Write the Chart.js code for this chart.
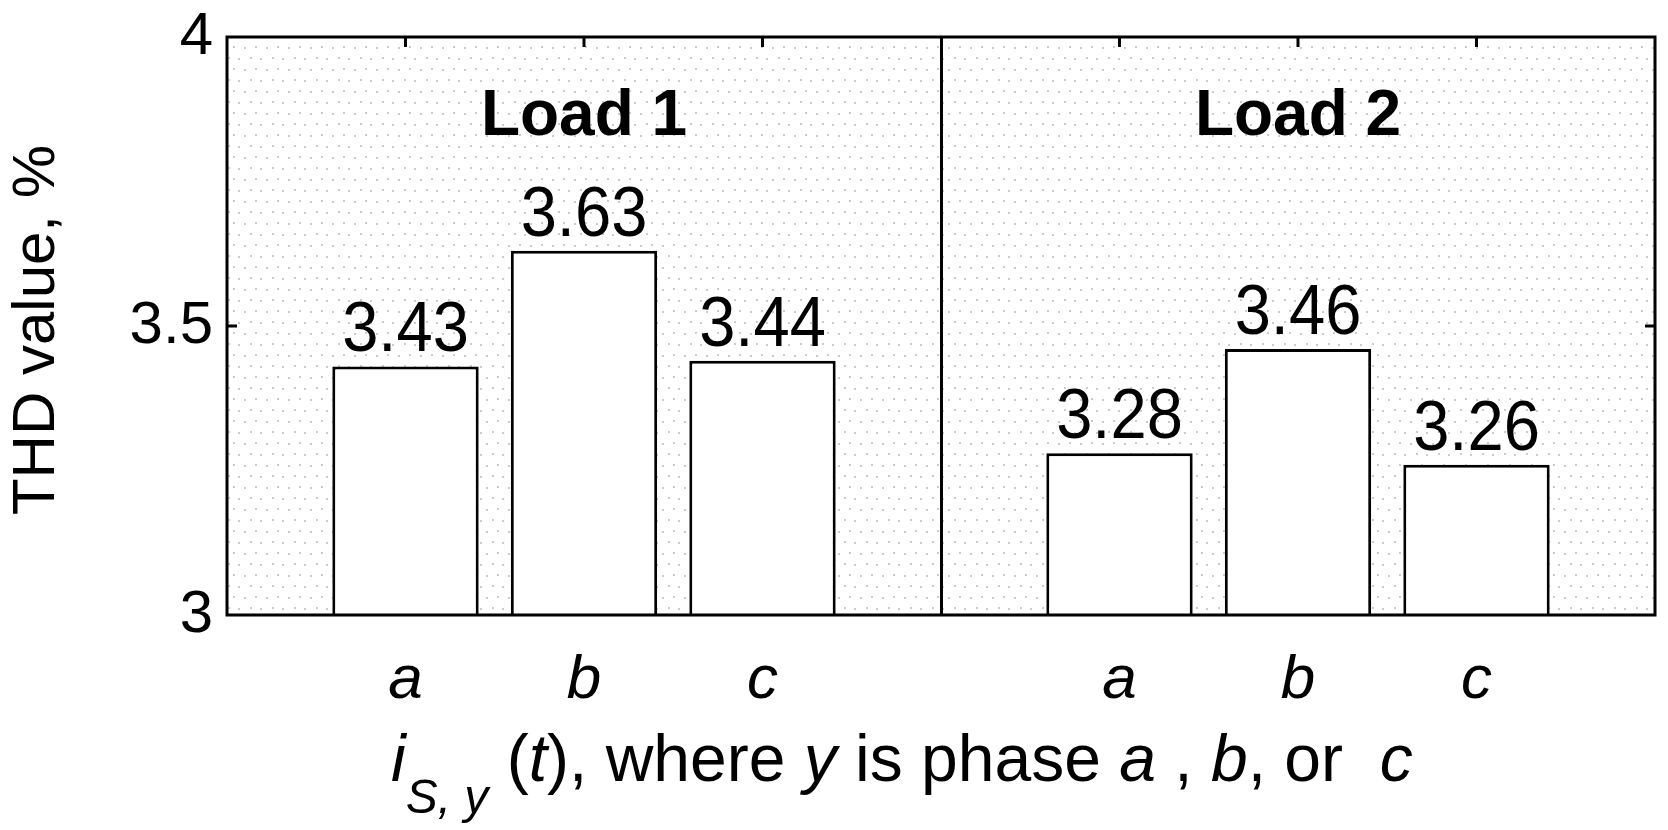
<!DOCTYPE html>
<html>
<head>
<meta charset="utf-8">
<script src="https://cdn.jsdelivr.net/npm/chart.js@4.4.1/dist/chart.umd.min.js"></script>
<style>
  html, body { margin: 0; padding: 0; background: #fff; }
  #wrap { width: 1668px; height: 830px; position: relative; }
</style>
</head>
<body>
<div id="wrap"><canvas id="thd-chart"></canvas></div>
<script>
// datos
const phases = ['a', 'b', 'c'];
const loadNames = ['Load 1', 'Load 2'];
const load1Values = [3.43, 3.63, 3.44];
const load2Values = [3.28, 3.46, 3.26];
const yTicks = [3, 3.5, 4];

const FONT = '"Liberation Sans", Arial, sans-serif';

// eje de categorías: hueco, a b c, separador, a b c, hueco
const labels = [''].concat(phases, [''], phases, ['']);
const values = [null].concat(load1Values, [null], load2Values, [null]);
const dividerIndex = phases.length + 1;
const groupCenters = [2, 6];

// patrón punteado del fondo
function makeDots() {
    const c = document.createElement('canvas');
    c.width = 22; c.height = 22;
    const g = c.getContext('2d');
    g.fillStyle = '#cbcbcb';
    [[2, 3], [13, 2], [8, 13], [18, 14]].forEach(([x, y]) => g.fillRect(x, y, 2, 2));
    return c;
}

const framePlugin = {
    id: 'frame',
    beforeDraw(chart) {
        const { ctx, chartArea: a } = chart;
        ctx.save();
        ctx.fillStyle = ctx.createPattern(makeDots(), 'repeat');
        ctx.fillRect(a.left, a.top, a.right - a.left, a.bottom - a.top);
        ctx.restore();
    },
    afterDraw(chart) {
        const { ctx, chartArea: a, scales } = chart;
        const x = scales.x, y = scales.y;
        ctx.save();
        ctx.strokeStyle = '#000';
        ctx.lineWidth = 3;
        ctx.strokeRect(a.left, a.top, a.right - a.left, a.bottom - a.top);

        // marcas interiores
        ctx.beginPath();
        labels.forEach((l, i) => {
            if (!l) return;
            const px = x.getPixelForValue(i);
            ctx.moveTo(px, a.top);
            ctx.lineTo(px, a.top + 10);
        });
        yTicks.slice(1, -1).forEach(v => {
            const py = y.getPixelForValue(v);
            ctx.moveTo(a.left, py); ctx.lineTo(a.left + 10, py);
            ctx.moveTo(a.right, py); ctx.lineTo(a.right - 10, py);
        });
        ctx.stroke();

        // valores sobre las barras (letra algo estrecha, como en el original)
        ctx.fillStyle = '#000';
        ctx.textAlign = 'center';
        ctx.textBaseline = 'alphabetic';
        ctx.font = '70px ' + FONT;
        chart.getDatasetMeta(0).data.forEach((bar, i) => {
            if (values[i] == null) return;
            ctx.save();
            ctx.translate(bar.x, bar.y - 15);
            ctx.scale(0.93, 1);
            ctx.fillText(values[i].toFixed(2), 0, 0);
            ctx.restore();
        });

        // nombres de las cargas
        ctx.font = 'bold 64px ' + FONT;
        loadNames.forEach((name, i) => {
            ctx.fillText(name, x.getPixelForValue(groupCenters[i]), 135);
        });

        // título eje y
        ctx.save();
        ctx.translate(37, (a.top + a.bottom) / 2 + 4);
        ctx.rotate(-Math.PI / 2);
        ctx.textBaseline = 'middle';
        ctx.font = '60px ' + FONT;
        ctx.fillText('THD value, %', 0, 0);
        ctx.restore();

        // título eje x con subíndices
        const base = 781, sub = 813;
        const parts = [
            ['i', 'italic 66px', base],
            ['S, y', 'italic 48px', sub],
            [' (', '66px', base],
            ['t', 'italic 66px', base],
            ['), where ', '66px', base],
            ['y', 'italic 66px', base],
            [' is phase ', '66px', base],
            ['a', 'italic 66px', base],
            [' , ', '66px', base],
            ['b', 'italic 66px', base],
            [', or  ', '66px', base],
            ['c', 'italic 66px', base]
        ];
        ctx.textAlign = 'left';
        let cx = 391;
        parts.forEach(([t, f, by]) => {
            ctx.font = f + ' ' + FONT;
            ctx.fillText(t, cx, by);
            cx += ctx.measureText(t).width;
        });
        ctx.restore();
    }
};

new Chart(document.getElementById('thd-chart'), {
    type: 'bar',
    data: {
        labels: labels,
        datasets: [{
            data: values,
            backgroundColor: '#ffffff',
            borderColor: '#000000',
            borderWidth: 3,
            borderSkipped: false,
            barPercentage: 0.82,
            categoryPercentage: 1
        }]
    },
    options: {
        responsive: true,
        maintainAspectRatio: false,
        animation: false,
        layout: { padding: { top: 37, right: 13, left: 0, bottom: 0 } },
        plugins: { legend: { display: false }, tooltip: { enabled: false } },
        scales: {
            x: {
                offset: false,
                border: { display: false },
                grid: {
                    offset: false,
                    drawTicks: false,
                    lineWidth: 3,
                    color: c => c.index === dividerIndex ? '#000' : 'rgba(0,0,0,0)'
                },
                ticks: {
                    autoSkip: false,
                    maxRotation: 0,
                    padding: 29,
                    color: '#000',
                    font: { family: FONT, size: 62, style: 'italic' }
                },
                afterFit: s => {
                    s.height = 215;
                    s.paddingLeft = 0;
                    s.paddingRight = 0;
                }
            },
            y: {
                min: 3,
                max: 4,
                border: { display: false },
                grid: { display: false, drawTicks: false },
                afterBuildTicks: s => { s.ticks = yTicks.map(v => ({ value: v })); },
                ticks: {
                    padding: 14,
                    color: '#000',
                    font: { family: FONT, size: 60, lineHeight: 1 },
                    callback: v => String(v)
                },
                afterFit: s => {
                    s.width = 227;
                    s.paddingTop = 0;
                    s.paddingBottom = 0;
                }
            }
        }
    },
    plugins: [framePlugin]
});
</script>
</body>
</html>
